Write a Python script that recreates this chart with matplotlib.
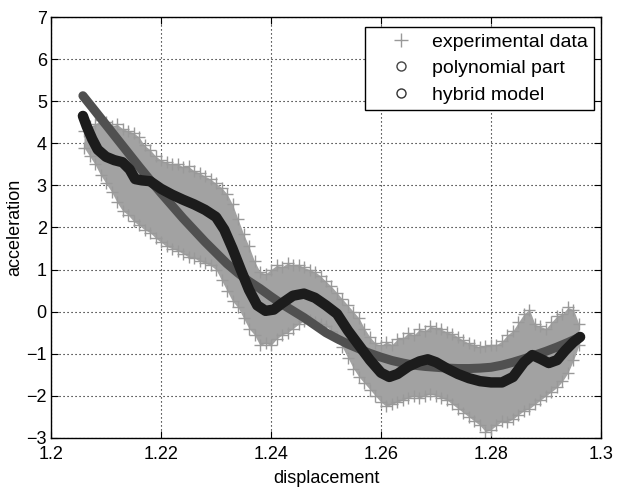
import matplotlib
matplotlib.use("Agg")
import matplotlib.pyplot as plt
from matplotlib.lines import Line2D

# ---------------- data ----------------
# experimental data cloud: upper / lower envelope of the measured points
exp_x = [1.206, 1.207, 1.208, 1.209, 1.210, 1.211, 1.212, 1.213, 1.214, 1.215,
         1.216, 1.217, 1.218, 1.219, 1.220, 1.221, 1.222, 1.223, 1.224, 1.225,
         1.226, 1.227, 1.228, 1.229, 1.230, 1.231, 1.232, 1.233, 1.234, 1.235,
         1.236, 1.237, 1.238, 1.239, 1.240, 1.241, 1.242, 1.243, 1.244, 1.245,
         1.246, 1.247, 1.248, 1.249, 1.250, 1.251, 1.252, 1.253, 1.254, 1.255,
         1.256, 1.257, 1.258, 1.259, 1.260, 1.261, 1.262, 1.263, 1.264, 1.265,
         1.266, 1.267, 1.268, 1.269, 1.270, 1.271, 1.272, 1.273, 1.274, 1.275,
         1.276, 1.277, 1.278, 1.279, 1.280, 1.281, 1.282, 1.283, 1.284, 1.285,
         1.286, 1.287, 1.288, 1.289, 1.290, 1.291, 1.292, 1.293, 1.294, 1.295,
         1.296]
exp_upper = [4.30, 4.40, 4.45, 4.55, 4.50, 4.40, 4.45, 4.35, 4.30, 4.25,
             4.15, 3.95, 3.85, 3.70, 3.60, 3.55, 3.50, 3.52, 3.44, 3.45,
             3.35, 3.30, 3.22, 3.15, 3.05, 2.95, 2.80, 2.55, 2.20, 1.85,
             1.55, 1.20, 0.95, 0.90, 1.00, 1.10, 1.07, 1.15, 1.10, 1.12,
             1.05, 1.00, 0.95, 0.85, 0.72, 0.60, 0.45, 0.30, 0.15, 0.00,
             -0.15, -0.40, -0.60, -0.75, -0.80, -0.72, -0.78, -0.65, -0.62, -0.50,
             -0.55, -0.42, -0.45, -0.35, -0.38, -0.42, -0.48, -0.52, -0.60, -0.68,
             -0.75, -0.78, -0.85, -0.82, -0.80, -0.78, -0.70, -0.55, -0.45, -0.25,
             -0.05, 0.05, -0.30, -0.35, -0.40, -0.25, -0.10, -0.05, 0.10, 0.05,
             -0.30]
exp_lower = [3.90, 3.70, 3.50, 3.25, 3.05, 2.85, 2.60, 2.40, 2.30, 2.15,
             2.05, 1.95, 1.88, 1.75, 1.65, 1.55, 1.50, 1.45, 1.38, 1.30,
             1.28, 1.20, 1.15, 1.10, 1.00, 0.75, 0.50, 0.25, 0.10, -0.15,
             -0.40, -0.55, -0.80, -0.75, -0.80, -0.65, -0.55, -0.50, -0.40, -0.30,
             -0.22, -0.20, -0.25, -0.30, -0.35, -0.45, -0.60, -0.85, -1.10, -1.35,
             -1.55, -1.70, -1.85, -2.00, -2.15, -2.25, -2.20, -2.15, -2.10, -2.05,
             -2.00, -2.05, -2.00, -1.95, -2.00, -2.05, -2.10, -2.20, -2.30, -2.40,
             -2.50, -2.60, -2.70, -2.85, -2.80, -2.70, -2.60, -2.62, -2.55, -2.45,
             -2.35, -2.30, -2.20, -2.10, -2.00, -1.90, -1.80, -1.65, -1.45, -1.15,
             -0.80]

# polynomial part
poly_x = [1.2058, 1.208, 1.210, 1.212, 1.214, 1.216, 1.218, 1.220, 1.222, 1.224,
          1.226, 1.228, 1.230, 1.232, 1.234, 1.236, 1.238, 1.240, 1.242, 1.244,
          1.246, 1.248, 1.250, 1.252, 1.254, 1.256, 1.258, 1.260, 1.262, 1.264,
          1.266, 1.268, 1.270, 1.272, 1.274, 1.276, 1.278, 1.280, 1.282, 1.284,
          1.286, 1.288, 1.290, 1.292, 1.294, 1.2962]
poly_y = [5.13, 4.77, 4.44, 4.11, 3.78, 3.45, 3.13, 2.82, 2.52, 2.22,
          1.94, 1.66, 1.40, 1.14, 0.92, 0.72, 0.55, 0.36, 0.18, 0.02,
          -0.14, -0.32, -0.50, -0.64, -0.77, -0.88, -0.99, -1.08, -1.16, -1.22,
          -1.27, -1.30, -1.32, -1.34, -1.35, -1.35, -1.34, -1.32, -1.27, -1.20,
          -1.12, -1.03, -0.94, -0.84, -0.73, -0.60]

# hybrid model
hyb_x = [1.2058, 1.2065, 1.2075, 1.2085, 1.2100, 1.2115, 1.2130, 1.2143, 1.2153, 1.2165,
         1.2180, 1.2200, 1.2220, 1.2240, 1.2260, 1.2280, 1.2300, 1.2315, 1.2330, 1.2345,
         1.2360, 1.2375, 1.2390, 1.2405, 1.2420, 1.2440, 1.2460, 1.2480, 1.2500, 1.2520,
         1.2540, 1.2560, 1.2580, 1.2600, 1.2615, 1.2630, 1.2650, 1.2670, 1.2685, 1.2700,
         1.2720, 1.2740, 1.2760, 1.2780, 1.2800, 1.2820, 1.2840, 1.2860, 1.2875, 1.2890,
         1.2905, 1.2920, 1.2935, 1.2950, 1.2962]
hyb_y = [4.65, 4.40, 4.10, 3.85, 3.68, 3.60, 3.55, 3.38, 3.15, 3.12,
         3.10, 2.92, 2.78, 2.66, 2.55, 2.42, 2.25, 1.95, 1.50, 1.00,
         0.52, 0.15, 0.02, 0.05, 0.20, 0.38, 0.43, 0.33, 0.15, -0.05,
         -0.45, -0.80, -1.15, -1.45, -1.55, -1.48, -1.30, -1.18, -1.13, -1.20,
         -1.35, -1.48, -1.58, -1.65, -1.68, -1.68, -1.55, -1.20, -1.03, -1.12,
         -1.22, -1.15, -0.92, -0.72, -0.60]

x_ticks = [1.2, 1.22, 1.24, 1.26, 1.28, 1.3]
x_tick_labels = ["1.2", "1.22", "1.24", "1.26", "1.28", "1.3"]
y_ticks = [-3, -2, -1, 0, 1, 2, 3, 4, 5, 6, 7]
legend_labels = ["experimental data", "polynomial part", "hybrid model"]

# ---------------- styling ----------------
plt.rcParams['font.family'] = ['Liberation Sans', 'DejaVu Sans']
DPI = 100
fig = plt.figure(figsize=(6.27, 4.91), dpi=DPI)
ax = fig.add_axes([51/627, 1 - 438/491, 550/627, 421/491])

cloud_col = "#a2a2a2"
cross_col = "#999999"
poly_col = "#505050"
hyb_col = "#1c1c1c"

# experimental data
ax.fill_between(exp_x, exp_lower, exp_upper, color=cloud_col, lw=0, zorder=2)
ax.plot(exp_x, exp_upper, ls="none", marker="+", ms=8, mew=1.0, color=cross_col, zorder=2)
ax.plot(exp_x, exp_lower, ls="none", marker="+", ms=8, mew=1.0, color=cross_col, zorder=2)

# polynomial part
ax.plot(poly_x, poly_y, color=poly_col, lw=6.5, solid_capstyle="round",
        solid_joinstyle="round", zorder=3)
# hybrid model
ax.plot(hyb_x, hyb_y, color=hyb_col, lw=7.5, solid_capstyle="round",
        solid_joinstyle="round", zorder=4)

ax.set_xlim(1.2, 1.3)
ax.set_ylim(-3, 7)
ax.set_xticks(x_ticks)
ax.set_xticklabels(x_tick_labels)
ax.set_yticks(y_ticks)
ax.tick_params(direction="in", top=True, right=True, length=5, width=0.8,
               labelsize=13, colors="black")
ax.tick_params(axis="x", pad=6)
ax.tick_params(axis="y", pad=3)
ax.grid(True, color="black", linestyle=(0, (1, 2.6)), linewidth=0.8)
ax.set_axisbelow(True)
for s in ax.spines.values():
    s.set_linewidth(1.0)
    s.set_color("black")

ax.set_xlabel("displacement", fontsize=13, labelpad=5)
ax.set_ylabel("acceleration", fontsize=13, labelpad=2)

handles = [
    Line2D([], [], ls="none", marker="+", ms=10, mew=1.0, color=cross_col),
    Line2D([], [], ls="none", marker="o", ms=6.5, mew=1.0, mfc="none", mec="#444444"),
    Line2D([], [], ls="none", marker="o", ms=6.5, mew=1.0, mfc="none", mec="#333333"),
]
leg = ax.legend(handles, legend_labels, loc="upper right",
                bbox_to_anchor=(0.987, 0.976), borderaxespad=0, fontsize=14,
                frameon=True, fancybox=False, edgecolor="black", framealpha=1,
                handlelength=3.0, handletextpad=0.1, labelspacing=0.45,
                borderpad=0.32)
leg.get_frame().set_linewidth(1.0)
leg.set_zorder(10)

fig.savefig("out.png", dpi=DPI)
